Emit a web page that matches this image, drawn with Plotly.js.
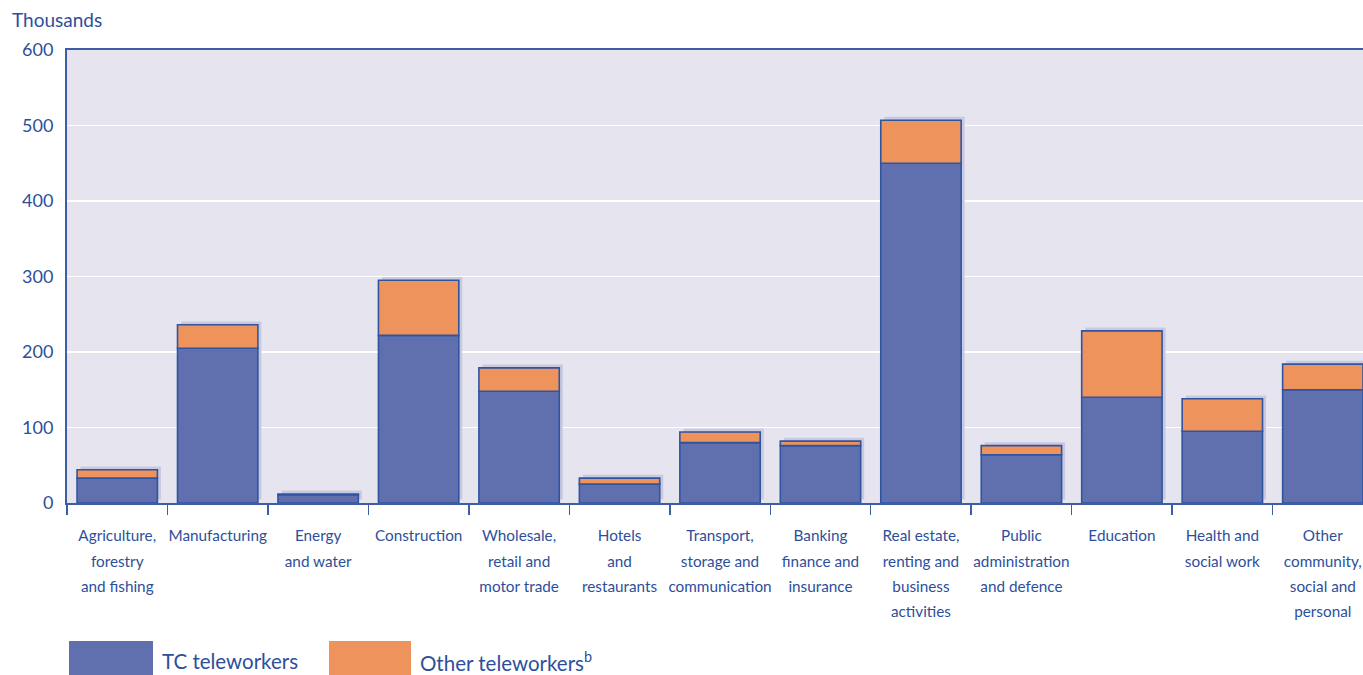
<!DOCTYPE html>
<html>
<head>
<meta charset="utf-8">
<script src="https://cdn.plot.ly/plotly-3.0.1.min.js"></script>
<style>html,body{margin:0;padding:0;overflow:hidden;background:#fff;}</style>
</head>
<body>
<div id="chart" style="width:1363px;height:675px;"></div>
<script>
const categories = [
  "Agriculture,<br>forestry<br>and fishing",
  "Manufacturing",
  "Energy<br>and water",
  "Construction",
  "Wholesale,<br>retail and<br>motor trade",
  "Hotels<br>and<br>restaurants",
  "Transport,<br>storage and<br>communication",
  "Banking<br>finance and<br>insurance",
  "Real estate,<br>renting and<br>business<br>activities",
  "Public<br>administration<br>and defence",
  "Education",
  "Health and<br>social work",
  "Other<br>community,<br>social and<br>personal"
];
const tcTeleworkers    = [33, 205, 11, 222, 148, 25, 80, 76, 450, 64, 140, 95, 150];
const otherTeleworkers = [11, 31, 1, 73, 31, 8, 14, 6, 57, 12, 88, 43, 34];
const yTicks = [0, 100, 200, 300, 400, 500, 600];

const totals = tcTeleworkers.map((v, i) => v + otherTeleworkers[i]);
const blue = '#6070ae', orange = '#ef935d', edge = '#2f55a0', shadow = '#c8c9e1';
const textColor = '#2d4f9b';
const FONT = 'Lato, "Open Sans", sans-serif';

// tick labels: small glyphs, wider line spacing
const tickText = categories.map(c => c.split('<br>')
  .map(s => '<span style="font-size:15.3px">' + s + '</span>').join('<br>'));

const traces = [
  { type: 'bar', x: categories, y: totals, base: 4.5, width: 0.8, offset: -0.365,
    marker: { color: shadow, line: { width: 0 } }, hoverinfo: 'skip', showlegend: false },
  { type: 'bar', name: 'TC teleworkers', x: categories, y: tcTeleworkers, width: 0.8, offset: -0.4,
    marker: { color: blue, line: { color: edge, width: 1.6 } } },
  { type: 'bar', name: 'Other teleworkers', x: categories, y: otherTeleworkers, base: tcTeleworkers,
    width: 0.8, offset: -0.4,
    marker: { color: orange, line: { color: edge, width: 1.6 } } }
];

const ppx = x => (x - 67) / 1296;
const ppy = y => (503 - y) / 453;
const layout = {
  width: 1363, height: 675,
  margin: { l: 67, r: 0, t: 50, b: 172 },
  paper_bgcolor: '#ffffff',
  plot_bgcolor: '#e5e4ef',
  barmode: 'overlay',
  showlegend: false,
  font: { family: FONT, color: textColor },
  title: { text: 'Thousands', x: 12 / 1363, xanchor: 'left', xref: 'container',
           y: 1 - 20 / 675, yanchor: 'middle', yref: 'container',
           font: { family: FONT, size: 19, color: textColor } },
  xaxis: {
    type: 'category', range: [-0.5, 12.4],
    showgrid: false, showline: true, linecolor: '#3d5ea5', linewidth: 2, mirror: true,
    ticks: 'outside', tickson: 'boundaries', ticklen: 10, tickwidth: 1.5, tickcolor: '#3d5ea5',
    tickmode: 'array', tickvals: categories, ticktext: tickText,
    ticklabelstandoff: 13,
    tickfont: { family: FONT, size: 19.5, color: textColor }, tickangle: 0
  },
  yaxis: {
    range: [0, 600], tickmode: 'array', tickvals: yTicks, ticktext: yTicks.map(String),
    showgrid: true, gridcolor: '#ffffff', gridwidth: 1.6, zeroline: false,
    showline: true, linecolor: '#3d5ea5', linewidth: 2, ticks: '',
    ticklabelstandoff: 8,
    tickfont: { family: FONT, size: 18, color: textColor }
  },
  shapes: [
    { type: 'rect', xref: 'paper', yref: 'paper', x0: ppx(69), x1: ppx(153), y0: ppy(641), y1: ppy(680),
      fillcolor: blue, line: { width: 0 } },
    { type: 'rect', xref: 'paper', yref: 'paper', x0: ppx(329), x1: ppx(411), y0: ppy(641), y1: ppy(680),
      fillcolor: orange, line: { width: 0 } }
  ],
  annotations: [
    { xref: 'paper', yref: 'paper', x: ppx(160), y: ppy(661), xanchor: 'left', yanchor: 'middle',
      text: 'TC teleworkers', showarrow: false, font: { family: FONT, size: 20.5, color: textColor } },
    { xref: 'paper', yref: 'paper', x: ppx(418), y: ppy(661), xanchor: 'left', yanchor: 'middle',
      text: 'Other teleworkers<sup>b</sup>', showarrow: false, font: { family: FONT, size: 20.5, color: textColor } }
  ]
};

Plotly.newPlot('chart', traces, layout, { displayModeBar: false, staticPlot: true });
</script>
</body>
</html>
